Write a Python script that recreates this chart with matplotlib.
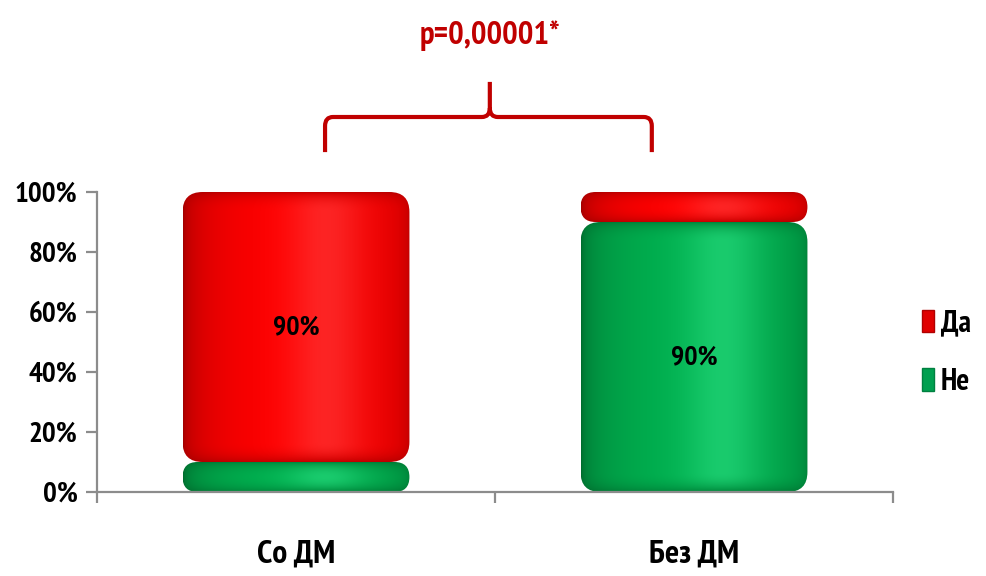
import numpy as np
import matplotlib
matplotlib.use("Agg")
import matplotlib.pyplot as plt
import matplotlib.font_manager as fm
from matplotlib.patches import FancyBboxPatch, Patch, PathPatch
from matplotlib.path import Path

# pick a bold condensed sans with Cyrillic
_installed = {f.name for f in fm.fontManager.ttflist}
_candidates = ['PT Sans Narrow', 'Fira Sans Condensed', 'Roboto Condensed', 'Carlito',
               'Liberation Sans Narrow']
_chosen = [c for c in _candidates if c in _installed][:1]
plt.rcParams['font.family'] = _chosen + ['DejaVu Sans']
plt.rcParams['font.weight'] = 'bold'

# Data
categories = ["Со ДМ", "Без ДМ"]
series_names = ["Не", "Да"]          # stacked bottom -> top
ne_values = [10, 90]
da_values = [90, 10]
y_ticks = [0, 20, 40, 60, 80, 100]
label_threshold = 50
p_text = "p=0,00001*"

series_values = [ne_values, da_values]
# (dark, base, highlight) per series
palettes = {
    "Да": ((0.50, 0.0, 0.0), (1.0, 0.0, 0.0), (1.0, 0.14, 0.14)),
    "Не": ((0.0, 0.32, 0.13), (0.0, 0.69, 0.31), (0.10, 0.80, 0.43)),
}
axis_grey = "#8c8c8c"
accent = "#C00000"

fig = plt.figure(figsize=(9.87, 5.76), dpi=100)
ax = fig.add_axes([97 / 987, 1 - 492 / 576, 796 / 987, 300 / 576])
ax.set_xlim(-0.5, len(categories) - 0.5)
ax.set_ylim(0, 100)

bar_width = 0.57
x = np.arange(len(categories))

# pixel scale of data units
px_per_x = ax.bbox.width / (len(categories))
px_per_y = ax.bbox.height / 100.0
aspect = (1 / px_per_y) / (1 / px_per_x)


def shade_image(w_px, h_px, pal, radius_px):
    dark, base, hi = [np.array(c) for c in pal]
    nx, ny = max(int(w_px), 2), max(int(h_px), 2)
    u = (np.arange(nx) + 0.5) / nx
    v = (np.arange(ny) + 0.5)            # pixels from bottom
    # horizontal cylinder profile, light peak right of centre
    prof = np.clip(np.sin(np.pi * u) ** 0.25, 0, 1)
    prof = np.where(u > 0.5, 0.3 + 0.7 * prof, prof)
    glow = np.exp(-((u - 0.63) / 0.17) ** 2)
    # vertical rounding near top and bottom edges
    d = np.minimum(v, ny - v)
    t = np.clip(d / max(radius_px, 1), 0, 1)
    vprof = np.sqrt(1 - (1 - t) ** 2)
    bottom_dark = np.where(v < ny / 2, 0.8 + 0.2 * vprof, 1.0)
    vprof = vprof * bottom_dark
    S = prof[None, :] * (0.45 + 0.55 * vprof[:, None])
    G = glow[None, :] * vprof[:, None] ** 2
    img = dark[None, None, :] + (base - dark)[None, None, :] * S[:, :, None]
    img = img + (hi - base)[None, None, :] * G[:, :, None]
    return np.clip(img[::-1], 0, 1)


bottoms = np.zeros(len(categories))
for name, vals in zip(series_names, series_values):
    for i, val in enumerate(vals):
        x0 = x[i] - bar_width / 2
        y0 = bottoms[i]
        h = val
        w_px = bar_width * px_per_x
        h_px = h * px_per_y
        r_px = min(20.0, h_px / 2)
        r = r_px / px_per_x
        pad = r
        patch = FancyBboxPatch((x0 + pad, y0 + pad * aspect),
                               bar_width - 2 * pad, h - 2 * pad * aspect,
                               boxstyle=f"round,pad={pad},rounding_size={r}",
                               mutation_aspect=aspect,
                               facecolor="none", edgecolor="none")
        ax.add_patch(patch)
        img = shade_image(w_px, h_px, palettes[name], r_px)
        im = ax.imshow(img, extent=(x0, x0 + bar_width, y0, y0 + h),
                       aspect="auto", interpolation="bilinear", zorder=2)
        im.set_clip_path(patch)
        if val >= label_threshold:
            ax.text(x[i], y0 + h / 2, f"{val}%", ha="center", va="center",
                    fontsize=20, fontweight="bold", color="black", zorder=4)
    bottoms += np.array(vals)

ax.set_xlim(-0.5, len(categories) - 0.5)
ax.set_ylim(0, 100)

# axes styling
for s in ("top", "right"):
    ax.spines[s].set_visible(False)
for s in ("left", "bottom"):
    ax.spines[s].set_color(axis_grey)
    ax.spines[s].set_linewidth(1.6)
ax.set_yticks(y_ticks)
ax.set_yticklabels([f"{t}%" for t in y_ticks])
ax.tick_params(axis="y", length=8, width=1.6, color=axis_grey, labelsize=21, pad=6)
ax.set_xticks(np.arange(-0.5, len(categories), 1.0))
ax.set_xticklabels([])
ax.tick_params(axis="x", length=8, width=1.6, color=axis_grey)
for i, c in enumerate(categories):
    ax.text(x[i], -21, c, ha="center", va="center", fontsize=24,
            fontweight="bold", transform=ax.transData, clip_on=False)

# significance brace
bx0, bx1, bxm = 0.073, 0.894, 0.487
yb, yh, yt = 113.3, 125.0, 136.7
rcx = 0.02
rcy = 3.0
verts = [(bx0, yb), (bx0, yh - rcy), (bx0, yh), (bx0 + rcx, yh),
         (bxm - rcx, yh), (bxm, yh), (bxm, yh + rcy), (bxm, yt),
         (bxm, yh + rcy), (bxm, yh), (bxm + rcx, yh),
         (bx1 - rcx, yh), (bx1, yh), (bx1, yh - rcy), (bx1, yb)]
codes = [Path.MOVETO, Path.LINETO, Path.CURVE3, Path.CURVE3,
         Path.LINETO, Path.CURVE3, Path.CURVE3, Path.LINETO,
         Path.MOVETO, Path.CURVE3, Path.CURVE3,
         Path.LINETO, Path.CURVE3, Path.CURVE3, Path.LINETO]
ax.add_patch(PathPatch(Path(verts, codes), facecolor="none", edgecolor=accent,
                       linewidth=3, clip_on=False, joinstyle="round"))
ax.text(bxm, 152, p_text, ha="center", va="center", fontsize=23.5,
        fontweight="bold", color=accent, clip_on=False)

# legend
handles = [Patch(facecolor="#E00000", edgecolor="#B00000"),
           Patch(facecolor="#00A050", edgecolor="#008040")]
fig.legend(handles, ["Да", "Не"], loc="center left",
           bbox_to_anchor=(910 / 987, 1 - 353 / 576), frameon=False,
           fontsize=22, handlelength=0.4, handleheight=0.75,
           handletextpad=0.2, labelspacing=1.0, borderaxespad=0)

fig.savefig("out.png", dpi=100)
